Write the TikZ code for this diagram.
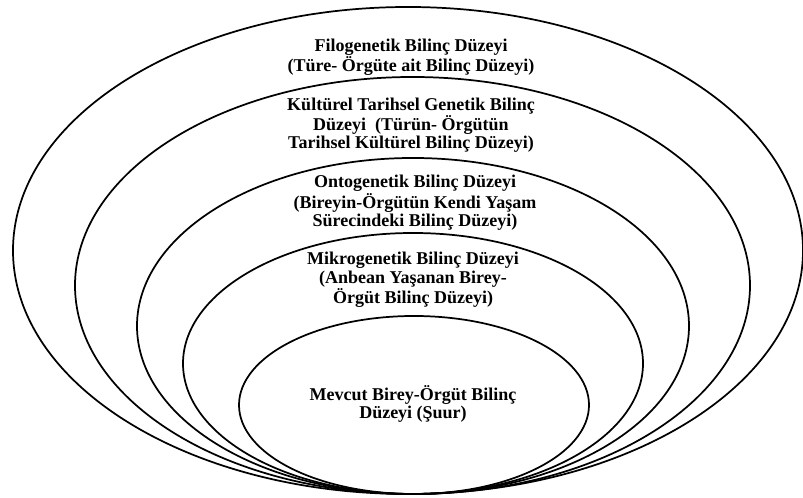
\documentclass[tikz,border=0pt]{standalone}
\usepackage{fontspec}
\setmainfont{Liberation Serif}

\begin{document}
\begin{tikzpicture}[x=0.75pt,y=0.75pt,
  level/.style={line width=1.3pt},
  levellabel/.style={align=center,inner sep=0pt,
    font=\bfseries\fontsize{13.5}{13.8}\selectfont}]

\useasboundingbox (0,0) rectangle (803,498);

% nested ellipses, all resting on one bottom point
\foreach \cx/\cy/\rx/\ry in {408/247.5/395/243.5,
                             412.5/212.5/337.5/208.5,
                             413/172/276/168,
                             413/134.5/230/130.5,
                             414/93/175/89}
  \draw[level] (\cx,\cy) ellipse [x radius=\rx, y radius=\ry];

% labels
\node[levellabel] (filo)  at (411,440.5) {Filogenetik Bilinç Düzeyi\\(Türe- Örgüte ait Bilinç Düzeyi)};
\node[levellabel] (kultur) at (411,373) {Kültürel Tarihsel Genetik Bilinç\\Düzeyi\ \ (Türün- Örgütün\\Tarihsel Kültürel Bilinç Düzeyi)};
\node[levellabel] (onto)  at (415,295) {Ontogenetik Bilinç Düzeyi\\(Bireyin-Örgütün Kendi Yaşam\\Sürecindeki Bilinç Düzeyi)};
\node[levellabel] (mikro) at (413,218) {Mikrogenetik Bilinç Düzeyi\\(Anbean Yaşanan Birey-\\Örgüt Bilinç Düzeyi)};
\node[levellabel] (mevcut) at (413,94) {Mevcut Birey-Örgüt Bilinç\\Düzeyi (Şuur)};

\end{tikzpicture}
\end{document}
